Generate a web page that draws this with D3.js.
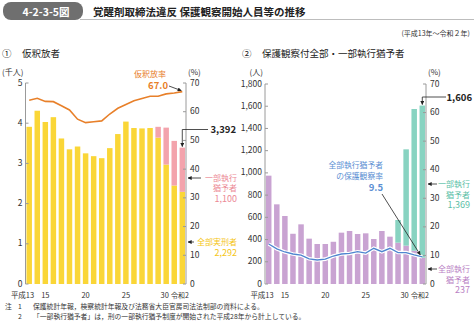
<!DOCTYPE html>
<html lang="ja">
<head>
<meta charset="UTF-8">
<title>覚醒剤取締法違反 保護観察開始人員等の推移</title>
<script src="https://d3js.org/d3.v7.min.js"></script>
<style>
  * { margin: 0; padding: 0; box-sizing: border-box; }
  body { background: #fff; width: 474px; height: 327px; overflow: hidden; }
  svg { display: block; font-family: "Noto Sans CJK JP", "Noto Sans", sans-serif; }
</style>
</head>
<body>
<svg id="chart" width="474" height="327"></svg>
<script>
// years 平成13 .. 令和2
const years = ["平成13","14","15","16","17","18","19","20","21","22","23","24","25","26","27","28","29","30","令和元","2"];
const tickIdx = [0, 2, 7, 12, 17, 19];
const tickText = ["平成13", "15", "20", "25", "30", "令和2"];

// ① 仮釈放者 (人)
const paroleFull = [3910, 4310, 4030, 4150, 3620, 3350, 3420, 3250, 3180, 3130, 3380, 3730, 4040, 3880, 3870, 3880, 3640, 2970, 2450, 2292];
const parolePartial = [0, 0, 0, 0, 0, 0, 0, 0, 0, 0, 0, 0, 0, 0, 0, 0, 270, 920, 1110, 1100];
const paroleRate = [64.0, 64.7, 63.6, 63.5, 62.1, 60.6, 57.4, 56.2, 56.5, 56.8, 59.2, 61.2, 62.5, 63.8, 64.6, 65.4, 65.4, 66.2, 66.5, 67.0];

// ② 保護観察付全部・一部執行猶予者 (人)
const probFull = [975, 717, 612, 452, 537, 408, 360, 360, 380, 462, 477, 450, 456, 405, 477, 426, 372, 345, 300, 237];
const probPartial = [0, 0, 0, 0, 0, 0, 0, 0, 0, 0, 0, 0, 0, 0, 0, 0, 204, 867, 1275, 1369];
const probRate = [14.0, 12.3, 11.2, 10.5, 10.1, 8.8, 8.4, 8.7, 9.8, 10.5, 10.7, 11.3, 10.8, 12.5, 11.3, 12.5, 11.0, 11.0, 10.2, 9.5];

const leftTicks1 = [0, 1000, 2000, 3000, 4000, 5000];
const leftTicks2 = [0, 200, 400, 600, 800, 1000, 1200, 1400, 1600, 1800];
const rightTicks = [0, 10, 20, 30, 40, 50, 60, 70];

const svg = d3.select("#chart");
const axisColor = "#9a9a9a";

// header
svg.append("rect").attr("x", 3).attr("y", 2).attr("width", 80).attr("height", 18).attr("rx", 8).attr("fill", "#6f6f6f");
svg.append("line").attr("x1", 80).attr("x2", 474).attr("y1", 19.5).attr("y2", 19.5).attr("stroke", "#bdbdbd").attr("stroke-width", 1);
svg.append("text").attr("x", 46).attr("y", 15.5).attr("text-anchor", "middle")
  .attr("fill", "#fff").attr("font-size", 10.5).attr("font-weight", "bold").text("4-2-3-5図");
svg.append("text").attr("x", 93).attr("y", 15.5).attr("fill", "#222")
  .attr("font-size", 10.5).attr("font-weight", "bold").text("覚醒剤取締法違反 保護観察開始人員等の推移");
svg.append("text").attr("x", 470).attr("y", 36).attr("text-anchor", "end")
  .attr("fill", "#333").attr("font-size", 7).text("(平成13年～令和２年)");

svg.append("text").attr("x", 2).attr("y", 57).attr("fill", "#222").attr("font-size", 9.5).text("①");
svg.append("text").attr("x", 22).attr("y", 57).attr("fill", "#222").attr("font-size", 9.5).text("仮釈放者");
svg.append("text").attr("x", 242).attr("y", 57).attr("fill", "#222").attr("font-size", 9.5).text("②");
svg.append("text").attr("x", 262).attr("y", 57).attr("fill", "#222").attr("font-size", 9.5).text("保護観察付全部・一部執行猶予者");

// arrow marker
const defs = svg.append("defs");
defs.append("marker").attr("id", "arr").attr("viewBox", "0 0 6 6").attr("refX", 5.5).attr("refY", 3)
  .attr("markerWidth", 5).attr("markerHeight", 5).attr("orient", "auto")
  .append("path").attr("d", "M0,0 L6,3 L0,6 Z").attr("fill", "#222");

function drawAxes(g, x, yL, yR, leftTicks, leftFmt, unitL) {
  const [x0, x1] = x.range();
  const [yb, yt] = yL.range();
  g.append("line").attr("x1", x0).attr("x2", x0).attr("y1", yt).attr("y2", yb).attr("stroke", axisColor);
  g.append("line").attr("x1", x1).attr("x2", x1).attr("y1", yt).attr("y2", yb).attr("stroke", axisColor);
  leftTicks.forEach(t => {
    g.append("line").attr("x1", x0).attr("x2", x0 + 3).attr("y1", yL(t)).attr("y2", yL(t)).attr("stroke", axisColor);
    g.append("text").attr("x", x0 - 3).attr("y", yL(t) + 2.5).attr("text-anchor", "end")
      .attr("font-size", 8.5).attr("fill", "#333").text(leftFmt(t));
  });
  rightTicks.forEach(t => {
    g.append("line").attr("x1", x1 - 3).attr("x2", x1).attr("y1", yR(t)).attr("y2", yR(t)).attr("stroke", axisColor);
    g.append("text").attr("x", x1 + 4).attr("y", yR(t) + 2.5)
      .attr("font-size", 8.5).attr("fill", "#333").text(t);
  });
  g.append("text").attr("x", x0 - 2).attr("y", 75).attr("text-anchor", "end").attr("font-size", 8).attr("fill", "#333").text(unitL);
  g.append("text").attr("x", x1 + 2).attr("y", 75).attr("font-size", 8).attr("fill", "#333").text("(%)");
  tickIdx.forEach((i, k) => {
    const cx = x(years[i]) + x.bandwidth() / 2;
    const txt = tickText[k];
    let anchor = "middle", tx = cx, fs = 7.5;
    if (k === 0) { anchor = "end"; tx = cx + 5; }
    if (k === tickIdx.length - 2) { tx = cx - 1.5; }
    if (k === tickIdx.length - 1) { anchor = "end"; tx = cx + 6.5; fs = 7; }
    g.append("text").attr("x", tx).attr("y", 297.5).attr("text-anchor", anchor)
      .attr("font-size", fs).attr("fill", "#333").text(txt);
  });
}

function label(g, lines, x, y, color, size, bold, gap) {
  let yy = y;
  lines.forEach((s, i) => {
    if (i > 0) yy += (gap && gap[i - 1]) || 10.5;
    g.append("text").attr("x", x).attr("y", yy).attr("text-anchor", "end")
      .attr("font-size", size[i] || size[0]).attr("font-weight", bold && bold[i] ? "bold" : "normal")
      .attr("fill", color).text(s);
  });
}

function arrow(g, pts) {
  g.append("path").attr("d", d3.line()(pts)).attr("fill", "none").attr("stroke", "#222")
    .attr("stroke-width", 0.8).attr("marker-end", "url(#arr)");
}

// ---------- chart 1 ----------
const g1 = svg.append("g");
const x1 = d3.scaleBand().domain(years).range([25.5, 186]).paddingInner(0.32).paddingOuter(0.12);
const y1 = d3.scaleLinear().domain([0, 5000]).range([284, 83]);
const y1r = d3.scaleLinear().domain([0, 70]).range([284, 83]);

g1.selectAll(".full").data(paroleFull).enter().append("rect")
  .attr("x", (d, i) => x1(years[i])).attr("width", x1.bandwidth())
  .attr("y", d => y1(d)).attr("height", d => y1(0) - y1(d)).attr("fill", "#fad637");
g1.selectAll(".part").data(parolePartial).enter().append("rect")
  .attr("x", (d, i) => x1(years[i])).attr("width", x1.bandwidth())
  .attr("y", (d, i) => y1(paroleFull[i] + d)).attr("height", d => y1(0) - y1(d)).attr("fill", "#f3a3ac");

drawAxes(g1, x1, y1, y1r, leftTicks1, d => d / 1000, "(千人)");

g1.append("path").datum(paroleRate)
  .attr("d", d3.line().x((d, i) => x1(years[i]) + x1.bandwidth() / 2).y(d => y1r(d)))
  .attr("fill", "none").attr("stroke", "#e8802a").attr("stroke-width", 1.6);

const last = years.length - 1;
const cx1 = x1(years[last]) + x1.bandwidth() / 2;
label(g1, ["仮釈放率"], 166, 77, "#e8802a", [8]);
label(g1, ["67.0"], 168, 89, "#e8802a", [9.5], [true]);
arrow(g1, [[169, 86], [cx1 - 1, y1r(paroleRate[last]) - 1]]);
label(g1, ["3,392"], 236, 133, "#222", [9.5], [true]);
arrow(g1, [[208, 129.5], [cx1, 129.5], [cx1, y1(paroleFull[last] + parolePartial[last]) - 1]]);
label(g1, ["一部執行", "猶予者", "1,100"], 237, 180.5, "#ec8a95", [8, 8, 9]);
arrow(g1, [[201, 178], [188, 178]]);
label(g1, ["全部実刑者", "2,292"], 237, 245, "#f5c514", [8, 9]);
arrow(g1, [[194, 242], [188, 242]]);

// ---------- chart 2 ----------
const g2 = svg.append("g");
const x2 = d3.scaleBand().domain(years).range([265, 426]).paddingInner(0.32).paddingOuter(0.12);
const y2 = d3.scaleLinear().domain([0, 1800]).range([284, 84]);
const y2r = d3.scaleLinear().domain([0, 70]).range([284, 84]);

g2.selectAll(".full").data(probFull).enter().append("rect")
  .attr("x", (d, i) => x2(years[i])).attr("width", x2.bandwidth())
  .attr("y", d => y2(d)).attr("height", d => y2(0) - y2(d)).attr("fill", "#c9a3d2");
g2.selectAll(".part").data(probPartial).enter().append("rect")
  .attr("x", (d, i) => x2(years[i])).attr("width", x2.bandwidth())
  .attr("y", (d, i) => y2(probFull[i] + d)).attr("height", d => y2(0) - y2(d)).attr("fill", "#88d3c1");

drawAxes(g2, x2, y2, y2r, leftTicks2, d3.format(","), "(人)");

const rateLine = d3.line().x((d, i) => x2(years[i]) + x2.bandwidth() / 2).y(d => y2r(d));
g2.append("path").datum(probRate).attr("d", rateLine)
  .attr("fill", "none").attr("stroke", "#ffffff").attr("stroke-width", 3.6);
g2.append("path").datum(probRate).attr("d", rateLine)
  .attr("fill", "none").attr("stroke", "#4f86cf").attr("stroke-width", 1.3);

const cx2 = x2(years[last]) + x2.bandwidth() / 2;
label(g2, ["1,606"], 472, 101, "#222", [9.5], [true]);
arrow(g2, [[446, 97], [cx2, 97], [cx2, y2(probFull[last] + probPartial[last]) - 1]]);
label(g2, ["全部執行猶予者", "の保護観察率", "9.5"], 383, 167.5, "#5b8fd3", [7.8, 7.8, 9.5], [false, false, true], [11.5, 11.5]);
arrow(g2, [[382, 194], [cx2 - 2, y2r(probRate[last]) - 2]]);
label(g2, ["一部執行", "猶予者", "1,369"], 470, 187, "#5cc0a6", [8, 8, 9]);
arrow(g2, [[437, 184], [428, 184]]);
label(g2, ["全部執行", "猶予者", "237"], 470, 272, "#b97fc4", [8, 8, 9]);
arrow(g2, [[437, 269], [428, 269]]);

// notes
const notes = [
  ["注", "1", "保護統計年報，検察統計年報及び法務省大臣官房司法法制部の資料による。"],
  ["", "2", "「一部執行猶予者」は，刑の一部執行猶予制度が開始された平成28年から計上している。"]
];
notes.forEach((n, i) => {
  const yy = 308.5 + i * 10.5;
  svg.append("text").attr("x", 5).attr("y", yy).attr("font-size", 6.8).attr("fill", "#333").text(n[0]);
  svg.append("text").attr("x", 18).attr("y", yy).attr("font-size", 6.8).attr("fill", "#333").text(n[1]);
  svg.append("text").attr("x", 33).attr("y", yy).attr("font-size", 6.8).attr("fill", "#333").text(n[2]);
});
</script>
</body>
</html>
